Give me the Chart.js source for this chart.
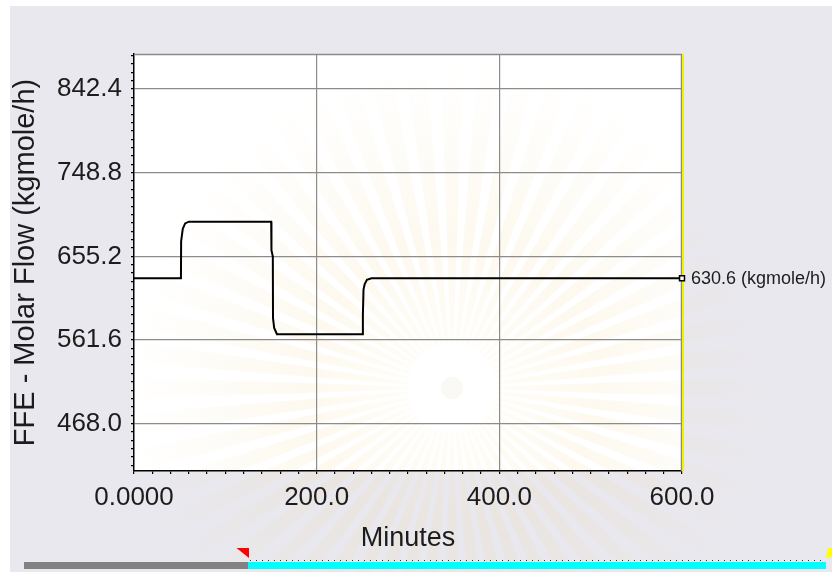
<!DOCTYPE html>
<html>
<head>
<meta charset="utf-8">
<title>FFE - Molar Flow</title>
<script src="https://cdn.jsdelivr.net/npm/chart.js@4.4.1/dist/chart.umd.min.js"></script>
<style>
  html, body { margin: 0; padding: 0; background: #fff; }
  canvas { display: block; }
</style>
</head>
<body>
<canvas id="flowChart" width="832" height="572"></canvas>
<script>
// step test on the FFE feed: time (min) vs molar flow (kgmole/h)
const minutes = [0, 51.4, 51.6, 53.4, 56, 60, 150.2, 150.5, 152, 152.2, 153.5, 156.5,
  250.4, 250.6, 251.3, 252.5, 255, 260, 600];
const molarFlow = [630.6, 630.6, 672, 686, 692, 694, 694, 662, 655, 586, 575, 568,
  568, 590, 618, 624, 629, 630.6, 630.6];

const xTickValues = [0, 200, 400, 600];
const xTickLabels = ['0.0000', '200.0', '400.0', '600.0'];
const yTickValues = [468.0, 561.6, 655.2, 748.8, 842.4];
const yTickLabels = ['468.0', '561.6', '655.2', '748.8', '842.4'];
const xMinorStep = 20;
const yMinorStep = 9.36;
const xMin = 0, xMax = 600;
const yMin = 415, yMax = 881.6;
const unitText = '(kgmole/h)';

const FONT = '"Liberation Sans", Arial, sans-serif';
const TEXT = '#1c1c1c';
const GRID = '#8c8c8c';

function findMajor(values, v) {
  return values.findIndex(m => Math.abs(m - v) < 1e-6);
}

// minor tick marks between the labelled ones
function minorTicks(first, step, lo, hi) {
  const out = [];
  const k0 = Math.ceil((lo - first) / step - 1e-9);
  const k1 = Math.floor((hi - first) / step + 1e-9);
  for (let k = k0; k <= k1; k++) out.push({ value: +(first + k * step).toFixed(4) });
  return out;
}

const frame = {
  id: 'frame',
  beforeDraw(chart) {
    const { ctx, chartArea: a, width, height } = chart;
    ctx.save();
    ctx.fillStyle = '#ffffff';
    ctx.fillRect(0, 0, width, height);
    ctx.fillStyle = '#e9e8ee';
    ctx.fillRect(10, 6, width - 10, height - 6);
    ctx.fillStyle = '#ffffff';
    ctx.fillRect(a.left, a.top, a.right - a.left, a.bottom - a.top);

    // faint sunburst watermark
    const cx = 452, cy = 388;
    ctx.beginPath();
    const n = 56;
    for (let i = 0; i < n; i++) {
      const t = i / n * Math.PI * 2;
      const w = Math.PI / n * 0.6;
      ctx.moveTo(cx + Math.cos(t - w) * 45, cy + Math.sin(t - w) * 45);
      ctx.lineTo(cx + Math.cos(t - w) * 330, cy + Math.sin(t - w) * 330);
      ctx.lineTo(cx + Math.cos(t + w) * 330, cy + Math.sin(t + w) * 330);
      ctx.lineTo(cx + Math.cos(t + w) * 45, cy + Math.sin(t + w) * 45);
      ctx.closePath();
    }
    const g = ctx.createRadialGradient(cx, cy, 45, cx, cy, 330);
    g.addColorStop(0, 'rgba(246, 218, 130, 0.06)');
    g.addColorStop(0.35, 'rgba(240, 208, 130, 0.13)');
    g.addColorStop(1, 'rgba(240, 215, 150, 0)');
    ctx.fillStyle = g;
    ctx.fill();
    ctx.beginPath();
    ctx.arc(cx, cy, 11, 0, Math.PI * 2);
    ctx.fillStyle = 'rgba(230, 222, 205, 0.18)';
    ctx.fill();
    ctx.restore();
  },
  beforeDatasetsDraw(chart) {
    const { ctx, chartArea: a } = chart;
    ctx.save();
    ctx.strokeStyle = GRID;
    ctx.lineWidth = 1.5;
    ctx.beginPath();
    ctx.moveTo(a.left, a.top + 0.5);
    ctx.lineTo(a.right, a.top + 0.5);
    ctx.moveTo(a.right - 0.5, a.top);
    ctx.lineTo(a.right - 0.5, a.bottom);
    ctx.stroke();
    ctx.strokeStyle = '#f2f200';
    ctx.lineWidth = 2;
    ctx.beginPath();
    ctx.moveTo(a.right + 1, a.top);
    ctx.lineTo(a.right + 1, a.bottom);
    ctx.stroke();
    ctx.restore();
  },
  afterDatasetsDraw(chart) {
    const { ctx } = chart;
    const meta = chart.getDatasetMeta(0);
    const last = meta.data[meta.data.length - 1];
    ctx.save();
    ctx.font = '18px ' + FONT;
    ctx.fillStyle = TEXT;
    ctx.textAlign = 'left';
    ctx.textBaseline = 'middle';
    ctx.fillText(molarFlow[molarFlow.length - 1].toFixed(1) + ' ' + unitText, last.x + 9, last.y + 1);
    ctx.restore();
  },
  afterDraw(chart) {
    // time slider strip under the plot
    const { ctx } = chart;
    ctx.save();
    ctx.fillStyle = '#828282';
    ctx.fillRect(24, 562, 224, 7);
    ctx.fillStyle = '#00ffff';
    ctx.fillRect(248, 562, 578, 7);
    ctx.fillStyle = '#333';
    for (let x = 250; x < 826; x += 6) ctx.fillRect(x, 560, 1, 1);
    ctx.fillStyle = '#ff0000';
    ctx.beginPath();
    ctx.moveTo(236.5, 548);
    ctx.lineTo(249, 548);
    ctx.lineTo(249, 558);
    ctx.closePath();
    ctx.fill();
    ctx.fillStyle = '#ffff00';
    ctx.beginPath();
    ctx.moveTo(828, 548);
    ctx.lineTo(832, 548);
    ctx.lineTo(832, 557);
    ctx.lineTo(826, 558);
    ctx.closePath();
    ctx.fill();
    ctx.restore();
  }
};

new Chart(document.getElementById('flowChart').getContext('2d'), {
  type: 'line',
  data: {
    datasets: [{
      label: 'FFE - Molar Flow',
      data: minutes.map((t, i) => ({ x: t, y: molarFlow[i] })),
      borderColor: '#000',
      borderWidth: 2,
      tension: 0,
      fill: false,
      clip: false,
      pointStyle: 'rect',
      pointRadius: ctx => ctx.dataIndex === minutes.length - 1 ? 3.5 : 0,
      pointBackgroundColor: '#fff',
      pointBorderColor: '#000',
      pointBorderWidth: 1.5
    }]
  },
  options: {
    responsive: false,
    animation: false,
    events: [],
    layout: { padding: { left: 0, top: 54, right: 150, bottom: 0 } },
    plugins: {
      legend: { display: false },
      tooltip: { enabled: false }
    },
    scales: {
      x: {
        type: 'linear',
        min: xMin,
        max: xMax,
        afterBuildTicks: s => { s.ticks = minorTicks(xMin, xMinorStep, xMin, xMax); },
        afterFit: s => { s.height = 101; },
        border: { display: true, color: '#000', width: 1.5 },
        grid: {
          color: ctx => {
            const v = ctx.tick ? ctx.tick.value : null;
            return v !== null && findMajor(xTickValues, v) >= 0 && v > xMin && v < xMax ? GRID : 'rgba(0,0,0,0)';
          },
          tickColor: '#000',
          tickLength: 3,
          lineWidth: 1.2
        },
        ticks: {
          autoSkip: false,
          maxRotation: 0,
          padding: 8,
          color: TEXT,
          font: { family: FONT, size: 26 },
          callback: v => { const i = findMajor(xTickValues, v); return i >= 0 ? xTickLabels[i] : ''; }
        },
        title: {
          display: true,
          text: 'Minutes',
          color: TEXT,
          font: { family: FONT, size: 27 },
          padding: { top: 0, bottom: 17 }
        }
      },
      y: {
        type: 'linear',
        min: yMin,
        max: yMax,
        afterBuildTicks: s => { s.ticks = minorTicks(yTickValues[0], yMinorStep, yMin, yMax); },
        afterFit: s => { s.width = 134; },
        border: { display: true, color: '#000', width: 1.5 },
        grid: {
          color: ctx => {
            const v = ctx.tick ? ctx.tick.value : null;
            return v !== null && findMajor(yTickValues, v) >= 0 ? GRID : 'rgba(0,0,0,0)';
          },
          tickColor: '#000',
          tickLength: 3,
          lineWidth: 1.2
        },
        ticks: {
          autoSkip: false,
          padding: 9,
          color: TEXT,
          font: { family: FONT, size: 26 },
          callback: v => { const i = findMajor(yTickValues, v); return i >= 0 ? yTickLabels[i] : ''; }
        },
        title: {
          display: true,
          text: 'FFE - Molar Flow (kgmole/h)',
          color: TEXT,
          font: { family: FONT, size: 29 },
          padding: { top: 9, bottom: 0 }
        }
      }
    }
  },
  plugins: [frame]
});
</script>
</body>
</html>
